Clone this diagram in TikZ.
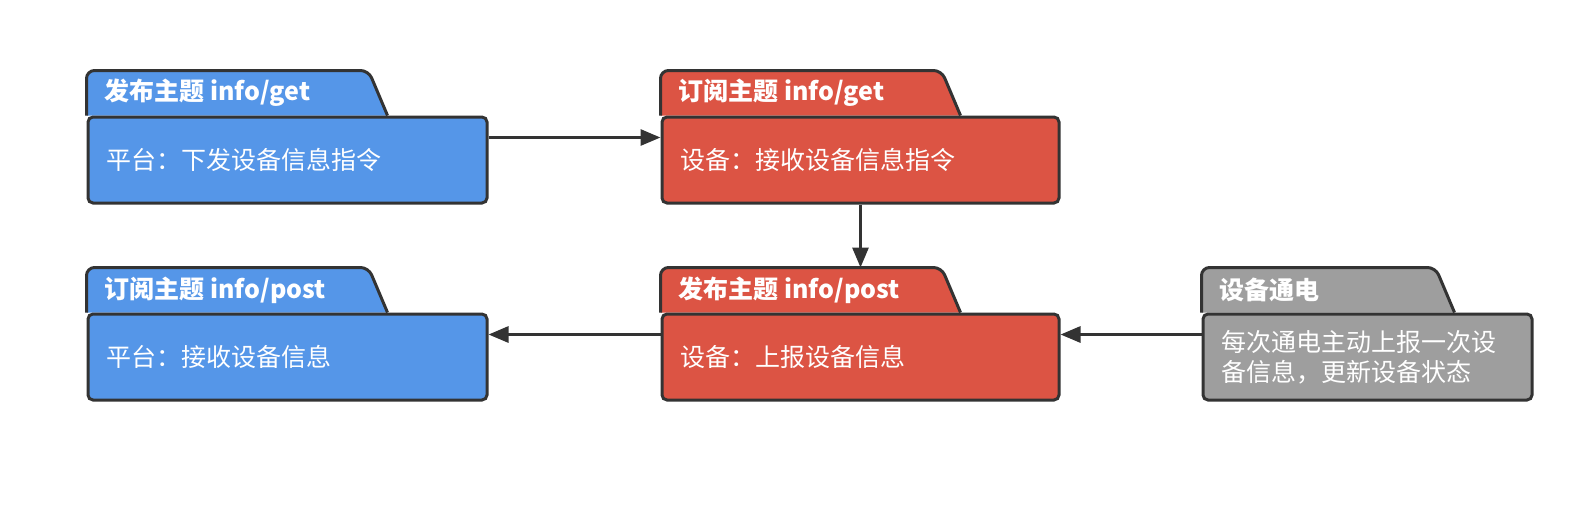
\documentclass[tikz,border=0pt]{standalone}
\usepackage{fontspec}
\setmainfont{Noto Sans CJK SC}
\usetikzlibrary{arrows.meta,backgrounds}
\definecolor{azul}{RGB}{85,150,232}
\definecolor{vermelho}{RGB}{220,84,68}
\definecolor{cinza}{RGB}{158,158,158}
\definecolor{borda}{RGB}{51,51,51}
\tikzset{box/.style={draw=borda,line width=3pt,fill=#1,rounded corners=5pt,
		minimum height=86pt,inner xsep=18pt,align=left,text=white,
		font=\fontsize{25pt}{30pt}\selectfont},box/.default=azul}
\tikzset{titulo/.style={anchor=west,inner sep=0pt,text=white,
		font=\fontsize{25pt}{30pt}\selectfont\bfseries}}
\tikzset{seta/.style={draw=borda,line width=3pt,-{Triangle[length=20pt,width=16pt]}}}
% aba da pasta: no, cor, largura em cima, titulo
\newcommand{\aba}[4]{%
	\begin{scope}[on background layer]
		\draw[draw=borda,line width=3pt,fill=#2,line join=round]
			(#1.north west) [rounded corners=8pt] -- ++(0,-45) -- ++(#3,0)
			[sharp corners] -- ++(19,45);
	\end{scope}
	\node[titulo] (#1-t) at ([xshift=18pt,yshift=22.5pt]#1.north west) {#4};}

\begin{document}
\begin{tikzpicture}[x=1pt,y=-1pt]
	\useasboundingbox (0,0) rectangle (1580,515);

	% primeira linha
	\node[box,text width=363pt,minimum width=399pt] (pubget) at (287.5,160) {平台：下发设备信息指令};
	\aba{pubget}{azul}{282}{发布主题 info/get}
	\node[box=vermelho,text width=361pt,minimum width=397pt] (subget) at (860.5,160) {设备：接收设备信息指令};
	\aba{subget}{vermelho}{281}{订阅主题 info/get}

	% segunda linha
	\node[box,text width=363pt,minimum width=399pt] (subpost) at (287.5,357) {平台：接收设备信息};
	\aba{subpost}{azul}{282}{订阅主题 info/post}
	\node[box=vermelho,text width=361pt,minimum width=397pt] (pubpost) at (860.5,357) {设备：上报设备信息};
	\aba{pubpost}{vermelho}{281}{发布主题 info/post}
	\node[box=cinza,text width=293pt,minimum width=329pt] (power) at (1367.5,357) {每次通电主动上报一次设\\备信息，更新设备状态};
	\aba{power}{cinza}{234}{设备通电}

	% ligacoes
	\draw[seta] ([yshift=22.5pt]pubget.east) -- ([yshift=22.5pt]subget.west);
	\draw[seta] (subget.south) -- ([yshift=45pt]pubpost.north);
	\draw[seta] ([yshift=22.5pt]pubpost.west) -- ([yshift=22.5pt]subpost.east);
	\draw[seta] ([yshift=22.5pt]power.west) -- ([yshift=22.5pt]pubpost.east);
\end{tikzpicture}
\end{document}
